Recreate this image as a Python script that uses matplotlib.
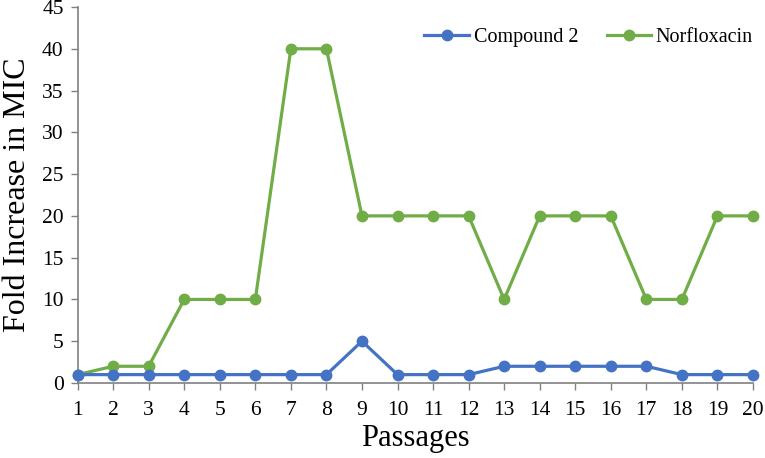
import matplotlib
matplotlib.use("Agg")
import matplotlib.pyplot as plt

# data
passages = list(range(1, 21))
compound2 = [1, 1, 1, 1, 1, 1, 1, 1, 5, 1, 1, 1, 2, 2, 2, 2, 2, 1, 1, 1]
norfloxacin = [1, 2, 2, 10, 10, 10, 40, 40, 20, 20, 20, 20, 10, 20, 20, 20, 10, 10, 20, 20]

BLUE = "#4472C4"
GREEN = "#70AD47"
plt.rcParams["font.family"] = ["Liberation Serif", "DejaVu Serif"]

fig = plt.figure(figsize=(7.65, 4.58), dpi=100)
ax = fig.add_axes([0.1014, 0.1638, 0.8829, 0.8209])

ax.plot(passages, compound2, color=BLUE, lw=2.3, marker="o", ms=7.5, label="Compound 2", clip_on=False, zorder=3)
ax.plot(passages, norfloxacin, color=GREEN, lw=2.3, marker="o", ms=7.5, label="Norfloxacin", clip_on=False, zorder=2)

ax.set_xlim(1, 20)
ax.set_ylim(0, 45)
ax.set_xticks(passages)
ax.set_yticks(range(0, 46, 5))
ax.tick_params(direction="out", length=5, width=1, color="#808080", labelsize=15.5)
ax.tick_params(axis="x", pad=8)
ax.tick_params(axis="y", pad=5)

for side in ["top", "right"]:
    ax.spines[side].set_visible(False)
for side in ["left", "bottom"]:
    ax.spines[side].set_color("#808080")
    ax.spines[side].set_linewidth(1.2)

ax.set_xlabel("Passages", fontsize=22, labelpad=3)
ax.set_ylabel("Fold Increase in MIC", fontsize=23, labelpad=7)

ax.legend(loc="center right", ncol=2, frameon=False, fontsize=14.5, handlelength=2.2,
          handletextpad=0.25, columnspacing=1.4, borderpad=0, borderaxespad=0,
          bbox_to_anchor=(1.0, 0.92))

fig.savefig("out.png", dpi=100)
